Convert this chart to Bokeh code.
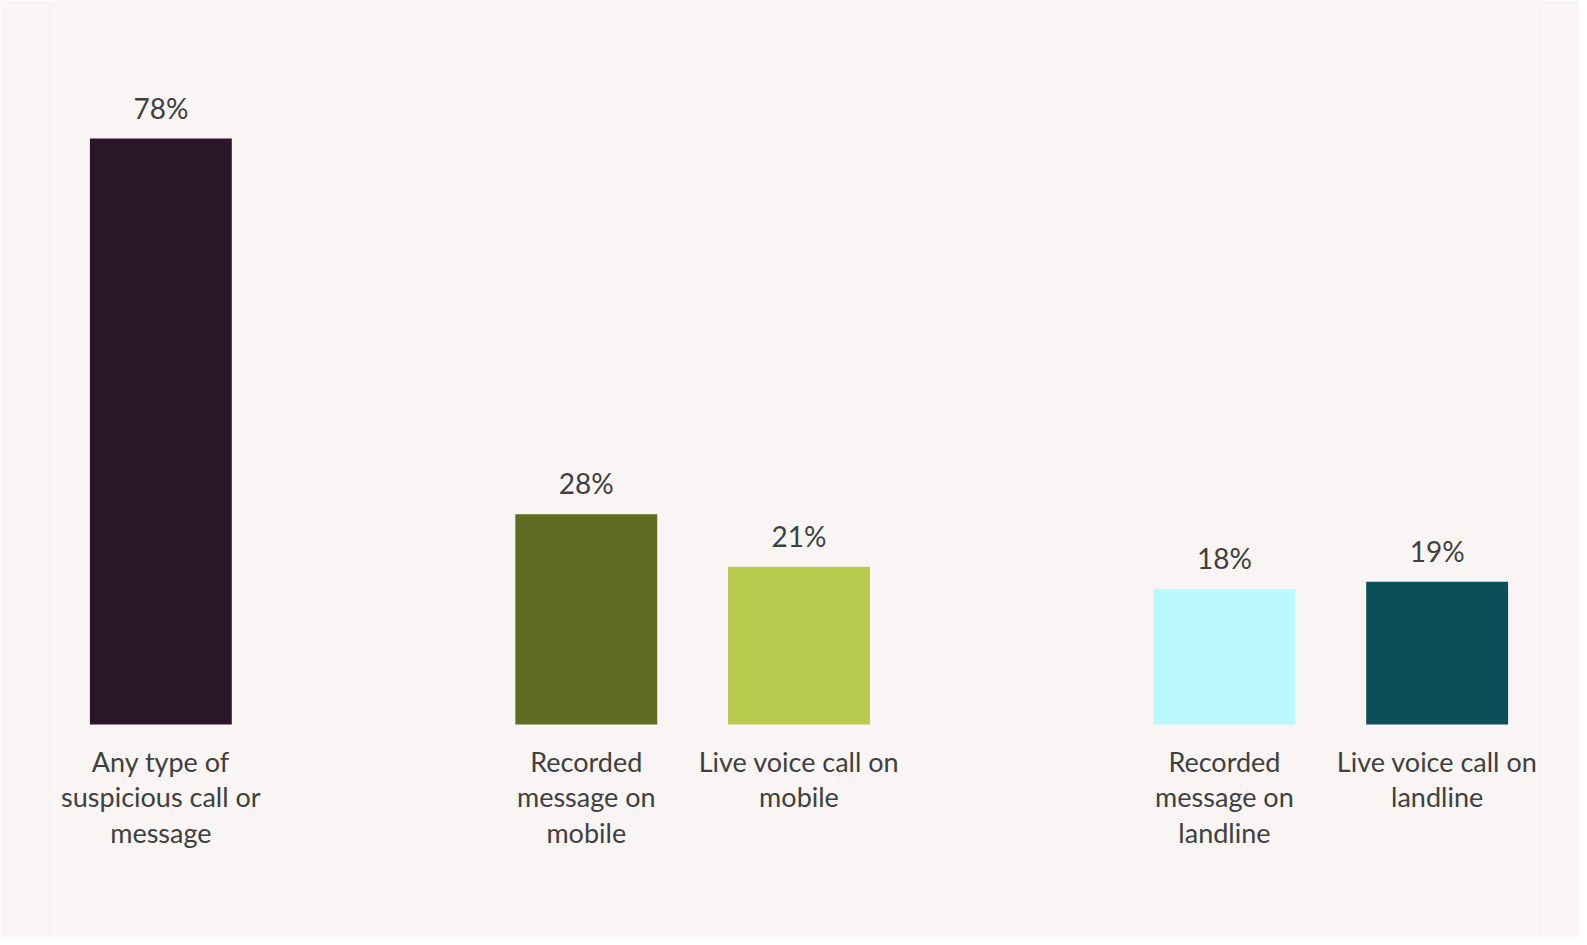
from bokeh.plotting import figure
from bokeh.models import ColumnDataSource, FactorRange, Range1d
from bokeh.core.properties import value
from bokeh.embed import file_html
from bokeh.resources import INLINE

# ---- data ----
groups = ["Any", "Mobile", "Mobile", "Landline", "Landline"]
categories = [
    "Any type of\nsuspicious call or\nmessage",
    "Recorded\nmessage on\nmobile",
    "Live voice call on\nmobile",
    "Recorded\nmessage on\nlandline",
    "Live voice call on\nlandline",
]
values = [78, 28, 21, 18, 19]
colors = ["#2B1629", "#616C23", "#B7CA4E", "#BAF8FC", "#0B4F59"]

labels = [f"{v}%" for v in values]
factors = list(zip(groups, categories))

src = ColumnDataSource(dict(x=factors, top=values, color=colors, label=labels,
                            cat=categories, zero=[0] * len(values)))

BG = "#F8F5F4"
TXT = "#404040"
FONT = "Lato"

p = figure(
    width=1579, height=937,
    x_range=FactorRange(*factors, group_padding=1.0, factor_padding=0.0, range_padding=0.0),
    y_range=Range1d(-28.35, 96.37),
    output_backend="svg", toolbar_location=None,
    min_border_left=54, min_border_right=36, min_border_top=0, min_border_bottom=0,
)
p.title.visible = False
p.axis.visible = False
p.grid.visible = False
p.background_fill_color = BG
p.border_fill_color = BG
p.outline_line_color = None

p.vbar(x="x", top="top", bottom=0, width=0.667, color="color", line_color=None, source=src)

p.text(x="x", y="top", text="label", source=src, text_align="center",
       text_baseline="alphabetic", y_offset=-31, text_color=TXT,
       text_font=value(FONT), text_font_size="28px")

p.text(x="x", y="zero", text="cat", source=src, text_align="center",
       text_baseline="top", y_offset=20, text_color=TXT,
       text_font=value(FONT), text_font_size="27px", text_line_height=1.08)

open("out.html", "w").write(file_html(p, INLINE))
